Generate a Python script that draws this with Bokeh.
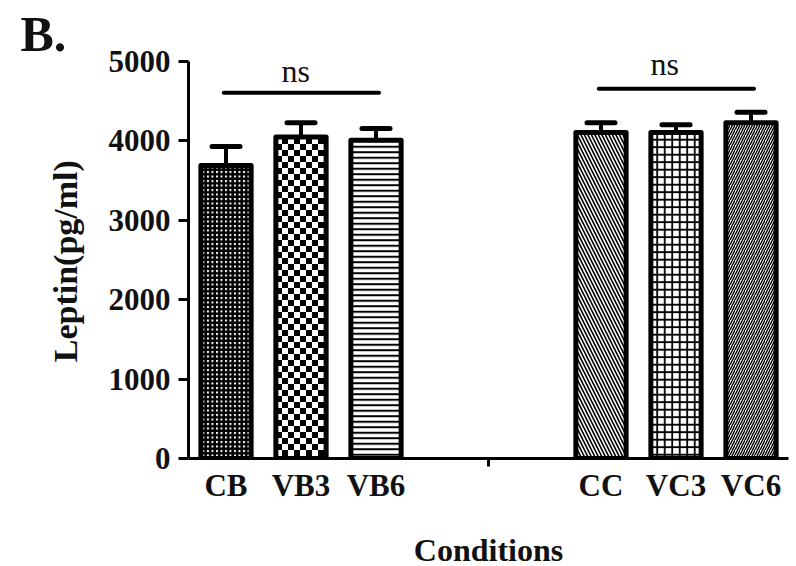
import base64
import struct
import zlib
from bokeh.plotting import figure
from bokeh.models import FixedTicker, Label, Whisker, TeeHead, ColumnDataSource, ImageURLTexture
from bokeh.embed import file_html
from bokeh.resources import INLINE

# ---- data ----
categories = ["CB", "VB3", "VB6", "CC", "VC3", "VC6"]
leptin = [3690, 4050, 4010, 4105, 4105, 4230]
sem = [240, 180, 145, 125, 100, 130]
y_ticks = [0, 1000, 2000, 3000, 4000, 5000]
sig_groups = [["CB", "VB3", "VB6"], ["CC", "VC3", "VC6"]]
sig_labels = ["ns", "ns"]

# ---- layout helpers ----
xs = [i + 1 + (2 if i >= 3 else 0) for i in range(len(categories))]
pos = dict(zip(categories, xs))
FONT = "Liberation Serif"
INK = "#111111"


def png_tile(size, cell):
    """Grayscale PNG checkerboard tile, returned as a data URI."""
    rows = []
    for yy in range(size):
        row = bytes(0 if ((xx // cell + yy // cell) % 2 == 0) else 255 for xx in range(size))
        rows.append(b"\x00" + row)
    raw = b"".join(rows)

    def chunk(t, d):
        return struct.pack(">I", len(d)) + t + d + struct.pack(">I", zlib.crc32(t + d) & 0xFFFFFFFF)

    data = (b"\x89PNG\r\n\x1a\n"
            + chunk(b"IHDR", struct.pack(">IIBBBBB", size, size, 8, 0, 0, 0, 0))
            + chunk(b"IDAT", zlib.compress(raw))
            + chunk(b"IEND", b""))
    return "data:image/png;base64," + base64.b64encode(data).decode()


p = figure(frame_width=600, frame_height=420, x_range=(0.5, 8.5), y_range=(0, 5290),
           output_backend="svg", toolbar_location=None,
           min_border_left=188, min_border_right=4, min_border_top=38, min_border_bottom=20)
p.outline_line_color = None
p.xgrid.visible = False
p.ygrid.visible = False
p.background_fill_color = "white"
p.border_fill_color = "white"

# panel letter as the plot title, pulled to the left edge
p.title.text = "B."
p.title.align = "left"
p.title.vertical_align = "top"
p.title.standoff = -50
p.title.offset = -168
p.title.text_font = FONT
p.title.text_font_style = "bold"
p.title.text_font_size = "50px"
p.title.text_color = INK

checker = ImageURLTexture(url=png_tile(12, 6))
pats = ["+", "checker", "-", "\\", "+", "/"]
hscale = [4.5, 12, 5.5, 7, 7.5, 5]
hweight = [2.6, 1, 2, 1.6, 1.8, 1.4]
for i in range(len(categories)):
    src = ColumnDataSource(dict(x=[xs[i]], top=[leptin[i]], pat=[pats[i]]))
    p.vbar(x="x", top="top", bottom=0, width=0.67, source=src,
           fill_color="white", line_color="black", line_width=5, line_join="round",
           hatch_color="black", hatch_pattern="pat", hatch_scale=hscale[i], hatch_weight=hweight[i],
           hatch_extra={"checker": checker})

err_src = ColumnDataSource(dict(x=xs, lower=leptin, upper=[m + s for m, s in zip(leptin, sem)]))
p.add_layout(Whisker(base="x", lower="lower", upper="upper", source=err_src, dimension="height",
                     line_width=4, line_color="black",
                     upper_head=TeeHead(size=28, line_width=5, line_cap="round"),
                     lower_head=None))

# significance bars
sig_y = [4606, 4656]
ns_pos = [(1.93, 4883), (6.85, 4971)]
for g, lab, yy, (tx, ty) in zip(sig_groups, sig_labels, sig_y, ns_pos):
    x0 = pos[g[0]] - 0.03
    x1 = pos[g[-1]] + 0.04
    p.line([x0, x1], [yy, yy], line_width=4, line_color="black", line_cap="round")
    p.add_layout(Label(x=tx, y=ty, text=lab, text_font=FONT, text_font_size="32px",
                       text_align="center", text_baseline="alphabetic", text_color=INK))

# y axis
ya = p.yaxis[0]
ya.ticker = FixedTicker(ticks=y_ticks, minor_ticks=[])
ya.bounds = (0, 5000)
ya.axis_line_width = 3
ya.major_tick_line_width = 3
ya.major_tick_out = 10
ya.major_tick_in = 0
ya.minor_tick_line_color = None
ya.major_label_standoff = 8
ya.major_label_text_font = FONT
ya.major_label_text_font_style = "bold"
ya.major_label_text_font_size = "31px"
ya.major_label_text_color = INK
# trailing no-break spaces move the centred title down to where the reference has it
ya.axis_label = "Leptin(pg/ml)" + "\u00a0" * 3
ya.axis_label_standoff = 22
ya.axis_label_text_font = FONT
ya.axis_label_text_font_style = "bold"
ya.axis_label_text_font_size = "34px"
ya.axis_label_text_color = INK

# x axis
xa = p.xaxis[0]
xa.ticker = FixedTicker(ticks=xs, minor_ticks=[4.5])
xa.major_label_overrides = {x: c for x, c in zip(xs, categories)}
xa.axis_line_width = 3
xa.major_tick_line_color = None
xa.major_tick_out = 0
xa.major_tick_in = 0
xa.minor_tick_line_width = 3
xa.minor_tick_out = 8
xa.minor_tick_in = 0
xa.major_label_standoff = 1
xa.major_label_text_font = FONT
xa.major_label_text_font_style = "bold"
xa.major_label_text_font_size = "31px"
xa.major_label_text_color = INK
xa.axis_label = "Conditions"
xa.axis_label_standoff = 26
xa.axis_label_text_font = FONT
xa.axis_label_text_font_style = "bold"
xa.axis_label_text_font_size = "32px"
xa.axis_label_text_color = INK

open("out.html", "w").write(file_html(p, INLINE))
